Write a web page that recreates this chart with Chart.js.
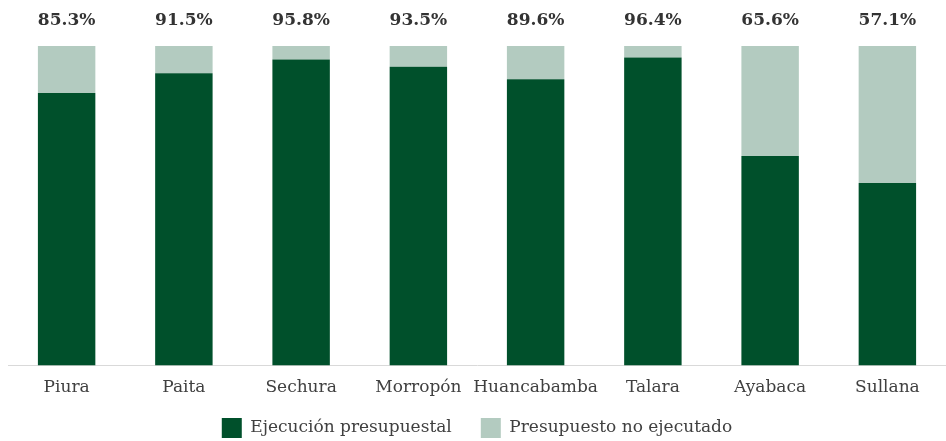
<!DOCTYPE html>
<html>
<head>
<meta charset="utf-8">
<script src="https://cdn.jsdelivr.net/npm/chart.js@4"></script>
<style>
  body { margin: 0; background: #fff; }
  #wrap { width: 946px; height: 441px; }
</style>
</head>
<body>
<div id="wrap"><canvas id="chart"></canvas></div>
<script>
const provinces = ['Piura', 'Paita', 'Sechura', 'Morropón', 'Huancabamba', 'Talara', 'Ayabaca', 'Sullana'];
const executed = [85.3, 91.5, 95.8, 93.5, 89.6, 96.4, 65.6, 57.1];
const notExecuted = executed.map(v => +(100 - v).toFixed(1));

const SERIF = "'DejaVu Serif', 'Liberation Serif', serif";

// percent labels above each stacked bar
const topLabels = {
  id: 'topLabels',
  afterDatasetsDraw(chart) {
    const ctx = chart.ctx;
    const meta = chart.getDatasetMeta(1);
    ctx.save();
    ctx.font = "bold 17px " + SERIF;
    ctx.fillStyle = '#333';
    ctx.textAlign = 'center';
    ctx.textBaseline = 'middle';
    meta.data.forEach((bar, i) => {
      ctx.fillText(executed[i].toFixed(1) + '%', bar.x, bar.y - 25);
    });
    ctx.restore();
  }
};

// legend: wide item spacing, but a short block that sits near the bottom edge
const legendFit = {
  id: 'legendFit',
  beforeLayout(chart) {
    const lg = chart.legend;
    if (lg && !lg._fixed) {
      const fit = lg.fit.bind(lg);
      lg.fit = function () { fit(); this.height = 39; };
      lg._fixed = true;
    }
  },
  afterLayout(chart) {
    const lg = chart.legend;
    lg.top = 389;
    lg.bottom = chart.height;
  }
};

new Chart(document.getElementById('chart'), {
  type: 'bar',
  data: {
    labels: provinces,
    datasets: [
      {
        label: 'Ejecución presupuestal',
        data: executed,
        backgroundColor: '#00502b',
        borderWidth: 0,
        categoryPercentage: 1,
        barPercentage: 0.49
      },
      {
        label: 'Presupuesto no ejecutado',
        data: notExecuted,
        backgroundColor: '#b3cbc0',
        borderWidth: 0,
        categoryPercentage: 1,
        barPercentage: 0.49
      }
    ]
  },
  options: {
    responsive: true,
    maintainAspectRatio: false,
    animation: false,
    layout: { padding: { top: 46, left: 8, right: 0, bottom: 0 } },
    plugins: {
      tooltip: { enabled: false },
      legend: {
        position: 'bottom',
        labels: {
          boxWidth: 20,
          boxHeight: 20,
          padding: 29,
          color: '#404040',
          font: { size: 17, family: SERIF }
        }
      }
    },
    scales: {
      x: {
        stacked: true,
        grid: { display: false },
        border: { color: '#d9d9d9', width: 1 },
        ticks: {
          color: '#404040',
          padding: 4,
          maxRotation: 0,
          minRotation: 0,
          autoSkip: false,
          font: { size: 17, family: SERIF }
        }
      },
      y: {
        stacked: true,
        min: 0,
        max: 100,
        display: false
      }
    }
  },
  plugins: [topLabels, legendFit]
});
</script>
</body>
</html>
